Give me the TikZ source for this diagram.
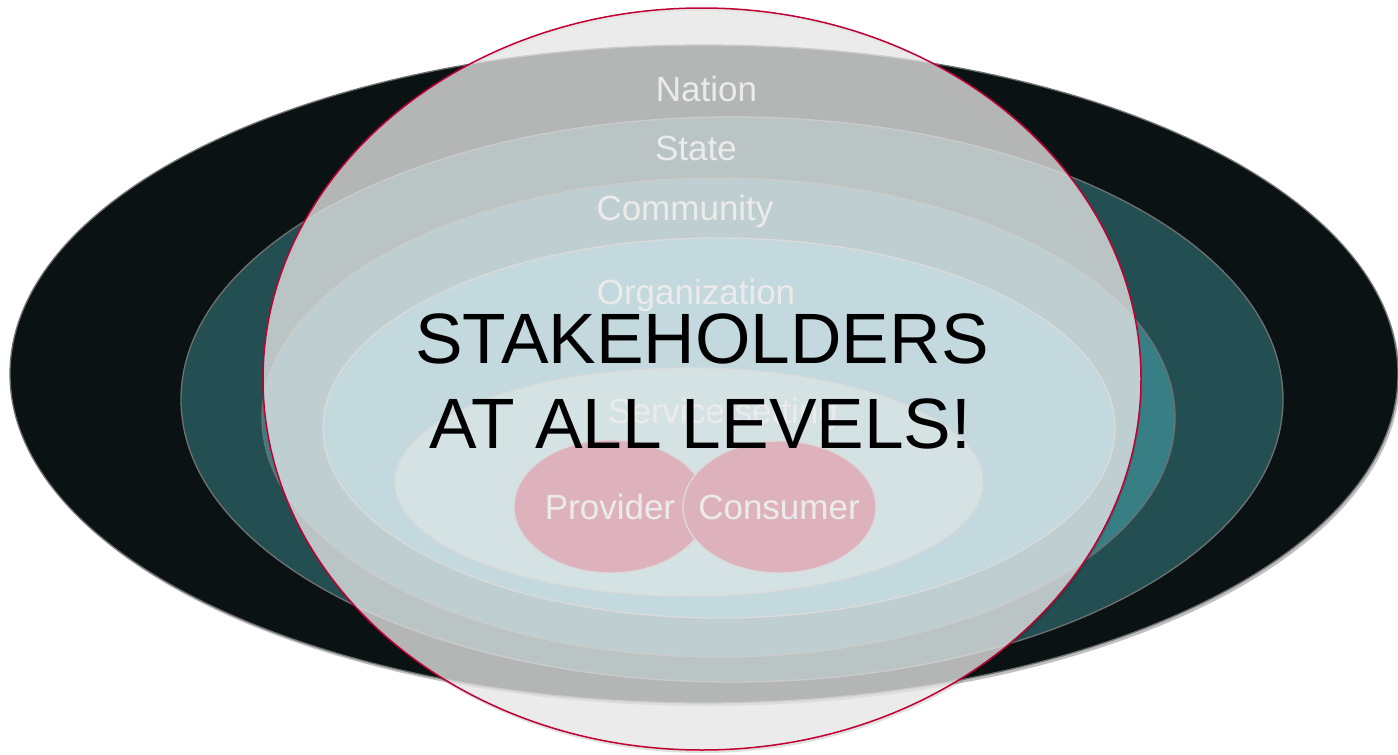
\documentclass[tikz,border=0pt]{standalone}
\usepackage{fontspec}
\setmainfont{Liberation Sans}
\definecolor{nationc}{RGB}{10,18,19}
\definecolor{statec}{RGB}{35,79,82}
\definecolor{commc}{RGB}{56,127,133}
\definecolor{orgc}{RGB}{75,172,198}
\definecolor{servc}{RGB}{158,214,220}
\definecolor{crim}{RGB}{192,0,50}
\definecolor{overc}{RGB}{230,230,230}
\definecolor{ringc}{RGB}{112,112,112}
\tikzset{
  ring/.style={draw=ringc, line width=1.3pt},
  lab/.style={anchor=base, text=white, font=\fontsize{35}{42}\selectfont, inner sep=0pt},
  big/.style={anchor=base, text=black, font=\fontsize{71.3}{85}\selectfont, inner sep=0pt},
}
\begin{document}
\begin{tikzpicture}[x=1pt,y=-1pt]
\useasboundingbox (0,0) rectangle (1398,755);
\fill[white] (0,0) rectangle (1398,755);
% shadow of outer ring
\fill[black, opacity=0.25] (706,377) ellipse [x radius=694pt, y radius=329pt];
% nested levels
\filldraw[ring, fill=nationc] (704,374) ellipse [x radius=694pt, y radius=329pt];
\filldraw[ring, fill=statec] (732,399.5) ellipse [x radius=551pt, y radius=282.5pt];
\filldraw[ring, fill=commc] (718.5,417.5) ellipse [x radius=456.5pt, y radius=239.5pt];
\filldraw[ring, fill=orgc, draw=gray!60] (719,428) ellipse [x radius=396pt, y radius=190pt];
\filldraw[ring, fill=servc, draw=gray!60] (689,482) ellipse [x radius=294pt, y radius=114pt];
\filldraw[ring, fill=crim, draw=gray!60] (610.5,506.5) ellipse [x radius=96.5pt, y radius=66.5pt];
\filldraw[ring, fill=crim, draw=gray!60] (779.5,507) ellipse [x radius=96.5pt, y radius=66pt];
% labels
\node[lab] (nation) at (706.5,101) {Nation};
\node[lab] (state) at (696,160) {State};
\node[lab] (community) at (685,220) {Community};
\node[lab] (organization) at (696,304) {Organization};
\node[lab] (service) at (723,423) {Service setting};
\node[lab] (provider) at (610,519) {Provider};
\node[lab] (consumer) at (779,519) {Consumer};
% overlay shadow (outside the overlay only)
\fill[black, opacity=0.12, even odd rule]
  (703,382) ellipse [x radius=439pt, y radius=371pt]
  (702,379) ellipse [x radius=439pt, y radius=371pt];
% overlay
\filldraw[fill=overc, fill opacity=0.776, draw=crim, line width=1.5pt] (702,379) ellipse [x radius=439pt, y radius=371pt];
% headline
\node[big] (stake1) at (702,363) {STAKEHOLDERS};
\node[big] (stake2) at (700.5,448) {AT ALL LEVELS!};
\end{tikzpicture}
\end{document}
